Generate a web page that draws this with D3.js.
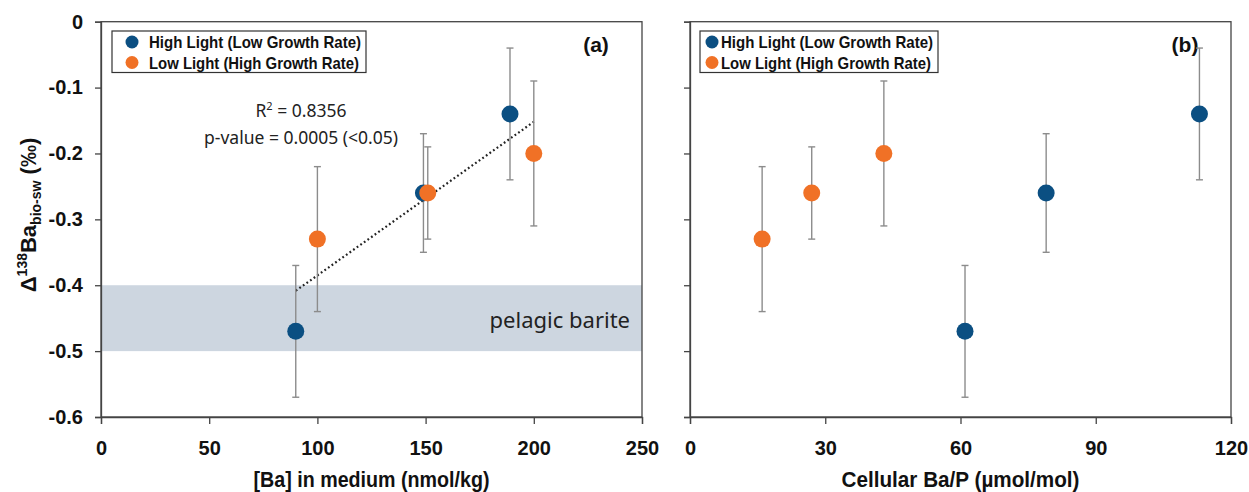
<!DOCTYPE html>
<html>
<head>
<meta charset="utf-8">
<script src="https://cdn.jsdelivr.net/npm/d3@7"></script>
<style>
  body { margin: 0; background: #fff; }
  svg { display: block; }
  .tick text { font-family: "Liberation Sans", Arial, sans-serif; font-weight: bold; font-size: 20px; fill: #111; }
</style>
</head>
<body>
<svg id="chart" width="1249" height="492"></svg>
<script>
// --- data ---
const seriesNames = ["High Light (Low Growth Rate)", "Low Light (High Growth Rate)"];
const seriesColors = ["#0b4f82", "#f07126"];

// panel (a): [Ba] in medium
const baHigh = [90, 149, 189];
const dHighA = [-0.47, -0.26, -0.14];
const errHighA = [0.10, 0.09, 0.10];
const baLow = [100, 151, 200];
const dLowA = [-0.33, -0.26, -0.20];
const errLowA = [0.11, 0.07, 0.11];

// panel (b): cellular Ba/P
const bapHigh = [61, 79, 113];
const bapLow = [16, 27, 43];

const yTicks = [0, -0.1, -0.2, -0.3, -0.4, -0.5, -0.6];
const xTicksA = [0, 50, 100, 150, 200, 250];
const xTicksB = [0, 30, 60, 90, 120];
const bariteBand = [-0.5, -0.4];

const svg = d3.select("#chart");
const plotTop = 21.7, plotBottom = 417;
const y = d3.scaleLinear().domain([-0.6, 0]).range([plotBottom, plotTop]);
const narrow = "'Liberation Sans', Arial, sans-serif";

const pts = (xs, ys, es, s) => xs.map((v, i) => ({ x: v, y: ys[i], e: es[i], s }));

function panel(x0, x1, xDomain, xTicks, showYLabels, label, xTitle, titleLen) {
  const x = d3.scaleLinear().domain(xDomain).range([x0, x1]);
  const g = svg.append("g");

  g.append("rect").attr("x", x0).attr("y", plotTop).attr("width", x1 - x0).attr("height", plotBottom - plotTop)
    .attr("fill", "none").attr("stroke", "#444").attr("stroke-width", 1.3);

  const xa = g.append("g").attr("transform", `translate(0,${plotBottom})`)
    .call(d3.axisBottom(x).tickValues(xTicks).tickSize(7).tickPadding(13).tickFormat(d3.format("d")));
  const ya = g.append("g").attr("transform", `translate(${x0},0)`)
    .call(d3.axisLeft(y).tickValues(yTicks).tickSize(6).tickPadding(12)
      .tickFormat(showYLabels ? (d => d === 0 ? "0" : "-" + d3.format(".1f")(-d)) : () => ""));
  [xa, ya].forEach(a => {
    a.select(".domain").attr("stroke", "#444").attr("stroke-width", 1.3);
    a.selectAll(".tick line").attr("stroke", "#444").attr("stroke-width", 1.3);
  });
  xa.selectAll(".tick text").attr("dy", "0.9em");

  g.append("text").attr("x", (x0 + x1) / 2).attr("y", 487).attr("text-anchor", "middle")
    .attr("textLength", titleLen).attr("lengthAdjust", "spacingAndGlyphs")
    .style("font-family", narrow).style("font-weight", "bold").style("font-size", "22px")
    .attr("fill", "#111").text(xTitle);

  g.append("text").attr("x", x1 - 46).attr("y", 52).attr("text-anchor", "middle")
    .style("font-family", "'Liberation Sans', sans-serif").style("font-weight", "bold")
    .style("font-size", "21px").attr("fill", "#111").text(label);

  return { g, x };
}

function drawPoints(g, x, data) {
  const eb = g.append("g").attr("stroke", "#8c8c8c").attr("stroke-width", 1.4);
  data.forEach(d => {
    const cx = x(d.x);
    eb.append("line").attr("x1", cx).attr("x2", cx).attr("y1", y(d.y + d.e)).attr("y2", y(d.y - d.e));
    [d.y + d.e, d.y - d.e].forEach(v =>
      eb.append("line").attr("x1", cx - 3.5).attr("x2", cx + 3.5).attr("y1", y(v)).attr("y2", y(v)));
  });
  g.append("g").selectAll("circle").data(data).enter().append("circle")
    .attr("cx", d => x(d.x)).attr("cy", d => y(d.y)).attr("r", 8.5)
    .attr("fill", d => seriesColors[d.s]);
}

function legend(g, bx, bw, cx, textX, textLen) {
  g.append("rect").attr("x", bx).attr("y", 31).attr("width", bw).attr("height", 41.5)
    .attr("fill", "#fff").attr("stroke", "#333").attr("stroke-width", 1.2);
  seriesNames.forEach((n, i) => {
    const cy = 42 + i * 20.5;
    g.append("circle").attr("cx", cx).attr("cy", cy).attr("r", 6.5).attr("fill", seriesColors[i]);
    g.append("text").attr("x", textX).attr("y", cy + 6)
      .attr("textLength", textLen[i]).attr("lengthAdjust", "spacingAndGlyphs")
      .style("font-family", narrow).style("font-weight", "bold").style("font-size", "17px")
      .attr("fill", "#111").text(n);
  });
}

// ---- panel (a) ----
const dataA = pts(baHigh, dHighA, errHighA, 0).concat(pts(baLow, dLowA, errLowA, 1));
const A = panel(101, 642, [0, 250], xTicksA, true, "(a)", "[Ba] in medium (nmol/kg)", 236);

A.g.insert("rect", ":first-child").attr("x", A.x(0)).attr("width", A.x(250) - A.x(0))
  .attr("y", y(bariteBand[1])).attr("height", y(bariteBand[0]) - y(bariteBand[1]))
  .attr("fill", "#cdd6e0");
A.g.append("text").attr("x", 630).attr("y", 328).attr("text-anchor", "end")
  .style("font-family", "'Noto Sans', sans-serif").style("font-size", "22px").attr("fill", "#222")
  .text("pelagic barite");

// linear regression through all points of panel (a)
const mx = d3.mean(dataA, d => d.x), my = d3.mean(dataA, d => d.y);
const slope = d3.sum(dataA, d => (d.x - mx) * (d.y - my)) / d3.sum(dataA, d => (d.x - mx) ** 2);
const xr = d3.extent(dataA, d => d.x);
A.g.append("line").attr("x1", A.x(xr[0])).attr("y1", y(my + slope * (xr[0] - mx)))
  .attr("x2", A.x(xr[1])).attr("y2", y(my + slope * (xr[1] - mx)))
  .attr("stroke", "#222").attr("stroke-width", 2.2).attr("stroke-dasharray", "1.8 2.6");

drawPoints(A.g, A.x, dataA);
legend(A.g, 112, 254, 132, 149, [212, 210]);

const ann = A.g.append("g").style("font-family", "'Noto Sans', sans-serif").style("font-size", "17.5px")
  .attr("fill", "#222").attr("text-anchor", "middle");
const r2 = ann.append("text").attr("x", 301).attr("y", 117);
r2.append("tspan").text("R");
r2.append("tspan").attr("dy", -7).style("font-size", "11px").text("2");
r2.append("tspan").attr("dy", 7).text(" = 0.8356");
ann.append("text").attr("x", 301).attr("y", 144).text("p-value = 0.0005 (<0.05)");

// ---- panel (b) ----
const dataB = pts(bapHigh, dHighA, errHighA, 0).concat(pts(bapLow, dLowA, errLowA, 1));
const B = panel(690, 1231, [0, 120], xTicksB, false, "(b)", "Cellular Ba/P (µmol/mol)", 238);
drawPoints(B.g, B.x, dataB);
legend(B.g, 700, 238, 712, 721, [212, 210]);

// y-axis title
const yt = svg.append("text").attr("transform", "translate(36,215) rotate(-90)")
  .attr("text-anchor", "middle").style("font-family", "'Liberation Sans', sans-serif")
  .style("font-weight", "bold").style("font-size", "22px").attr("fill", "#111");
yt.append("tspan").text("Δ");
yt.append("tspan").attr("dy", -9).style("font-size", "14px").text("138");
yt.append("tspan").attr("dy", 9).text("Ba");
yt.append("tspan").attr("dy", 5).style("font-size", "14px").text("bio-sw");
yt.append("tspan").attr("dy", -5).text(" (‰)");
</script>
</body>
</html>
